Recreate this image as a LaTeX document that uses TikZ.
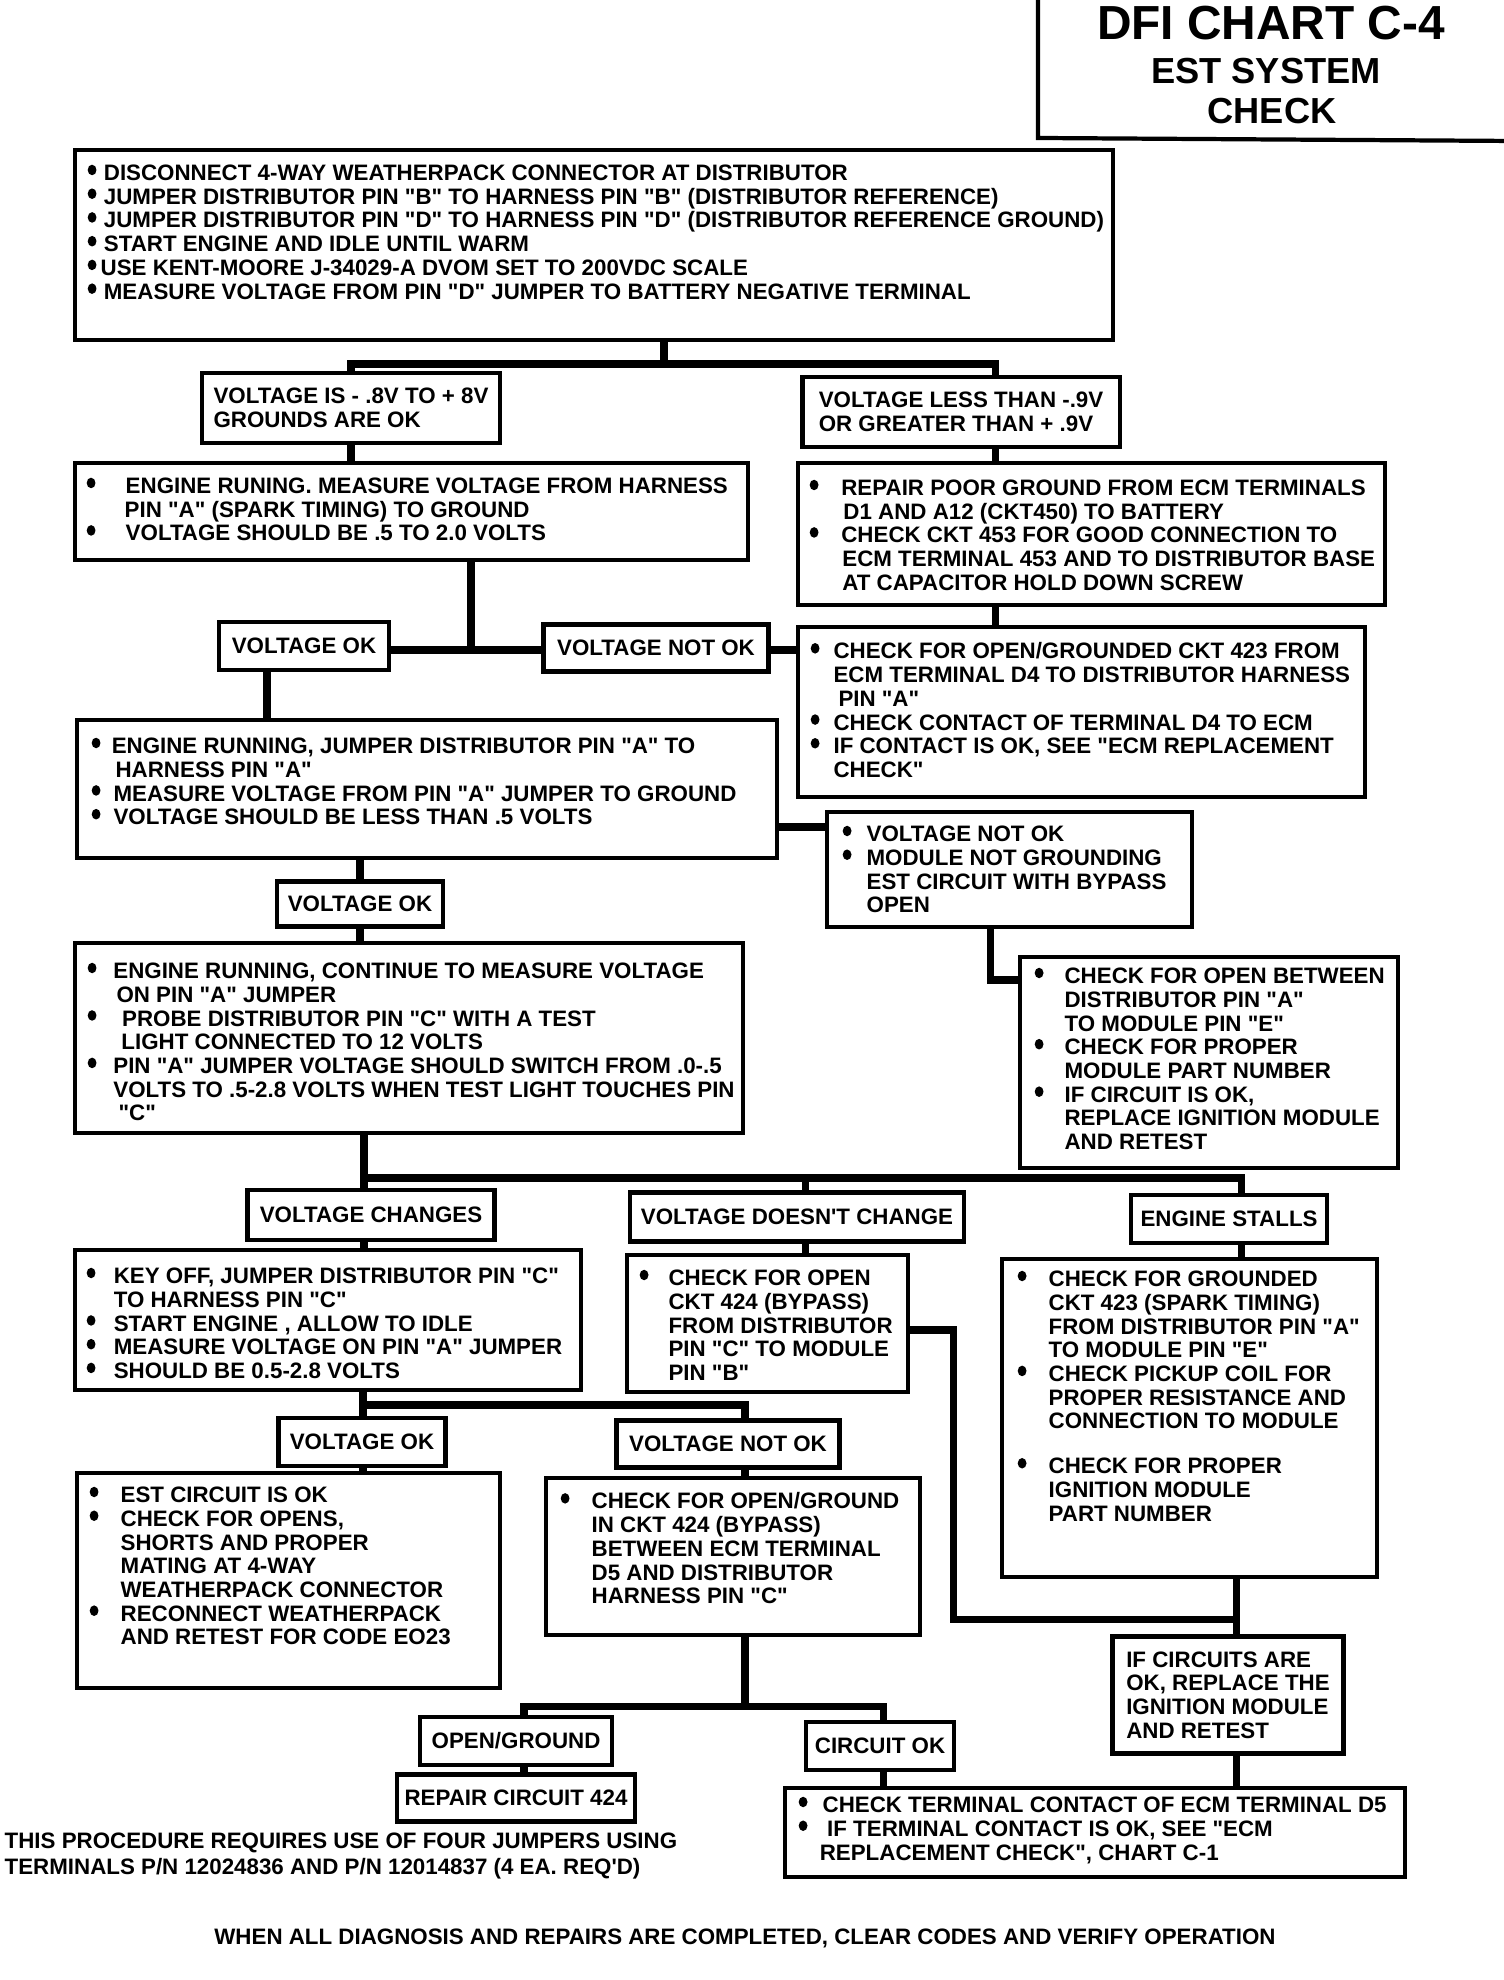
\documentclass[tikz,border=0pt]{standalone}
\usepackage{fontspec}
\setmainfont{Liberation Sans}[Ligatures=TeXOff]
\usetikzlibrary{fit,calc}
\newcommand{\chartfont}{\fontsize{6.35pt}{6.75pt}\selectfont\bfseries}
\newcommand{\dotmark}{\tikz[baseline=-3pt]\fill (0,0) ellipse [x radius=1.25pt, y radius=1.5pt];}
\newcommand{\bul}[1]{\makebox[#1][l]{\dotmark}}
\newcommand{\ind}[1]{\hspace*{#1}}

\begin{document}
\begin{tikzpicture}[
  x=0.01cm, y=-0.01cm,
  box/.style={draw, line width=1.2pt, inner sep=0pt},
  lbl/.style={draw, line width=1.2pt, inner sep=0pt, align=left, font=\chartfont},
  txt/.style={anchor=north west, inner sep=0pt, align=left, font=\chartfont},
  conn/.style={line width=2pt},
  ttl/.style={inner sep=0pt},
]
\useasboundingbox[fill=white] (0,0) rectangle (1504,1980);

% --- Title ---
\draw[box] (1038,-10) -- (1038,138) -- (1514,141);
\node[ttl, font=\fontsize{13.6pt}{14pt}\selectfont\bfseries] (title) at (1271,23) {DFI CHART C-4};
\node[ttl, font=\fontsize{10.3pt}{11pt}\selectfont\bfseries] (title-est) at (1266,71) {EST SYSTEM};
\node[ttl, font=\fontsize{10.3pt}{11pt}\selectfont\bfseries] (title-check) at (1272,111) {CHECK};

% --- Start ---

% Disconnect and measure
\node[box, fit={(75,150) (1113,340)}] (disconnect) {};
\node[txt] (disconnect-t) at (87,164)
  {\bul{4.6pt}DISCONNECT 4-WAY WEATHERPACK CONNECTOR AT DISTRIBUTOR\\
   \bul{4.6pt}JUMPER DISTRIBUTOR PIN "B" TO HARNESS PIN "B" (DISTRIBUTOR REFERENCE)\\
   \bul{4.6pt}JUMPER DISTRIBUTOR PIN "D" TO HARNESS PIN "D" (DISTRIBUTOR REFERENCE GROUND)\\
   \bul{4.6pt}START ENGINE AND IDLE UNTIL WARM\\
   \dotmark\hspace{1.2pt}USE KENT-MOORE J-34029-A DVOM SET TO 200VDC SCALE\\
   \bul{4.6pt}MEASURE VOLTAGE FROM PIN "D" JUMPER TO BATTERY NEGATIVE TERMINAL};

% Ground results
\node[lbl, minimum width=2.98cm, minimum height=0.70cm] (gnd-ok) at (351,408)
  {VOLTAGE IS - .8V TO + 8V\\GROUNDS ARE OK};
\node[lbl, minimum width=3.17cm, minimum height=0.70cm] (gnd-bad) at (961,412)
  {VOLTAGE LESS THAN -.9V\\OR GREATER THAN + .9V};

% --- Left branch ---

% Spark timing at harness
\node[box, fit={(75,463) (748,560)}] (pin-a) {};
\node[txt] (pin-a-t) at (86,477)
  {\bul{11.1pt}ENGINE RUNING. MEASURE VOLTAGE FROM HARNESS\\
   \ind{10.8pt}PIN "A" (SPARK TIMING) TO GROUND\\
   \bul{11.1pt}VOLTAGE SHOULD BE .5 TO 2.0 VOLTS};

\node[lbl, minimum width=1.70cm, minimum height=0.48cm] (volt-ok) at (304,646) {VOLTAGE OK};
\node[lbl, minimum width=2.25cm, minimum height=0.47cm] (volt-bad) at (656,648) {VOLTAGE NOT OK};

% Jumper pin A
\node[box, fit={(77,720) (777,858)}] (jumper-a) {};
\node[txt] (jumper-a-t) at (91,737)
  {\bul{5.7pt}ENGINE RUNNING, JUMPER DISTRIBUTOR PIN "A" TO\\
   \ind{6.8pt}HARNESS PIN "A"\\
   \bul{6.2pt}MEASURE VOLTAGE FROM PIN "A" JUMPER TO GROUND\\
   \bul{6.2pt}VOLTAGE SHOULD BE LESS THAN .5 VOLTS};

\node[lbl, minimum width=1.66cm, minimum height=0.45cm] (volt-ok2) at (360,904) {VOLTAGE OK};

% Test light
\node[box, fit={(75,943) (743,1133)}] (test-light) {};
\node[txt] (test-light-t) at (87,962)
  {\bul{7.3pt}ENGINE RUNNING, CONTINUE TO MEASURE VOLTAGE\\
   \ind{8.2pt}ON PIN "A" JUMPER\\
   \bul{9.8pt}PROBE DISTRIBUTOR PIN "C" WITH A TEST\\
   \ind{9.6pt}LIGHT CONNECTED TO 12 VOLTS\\
   \bul{7.3pt}PIN "A" JUMPER VOLTAGE SHOULD SWITCH FROM .0-.5\\
   \ind{7.3pt}VOLTS TO .5-2.8 VOLTS WHEN TEST LIGHT TOUCHES PIN\\
   \ind{8.8pt}"C"};

\node[lbl, minimum width=2.47cm, minimum height=0.50cm] (changes) at (371,1215) {VOLTAGE CHANGES};
\node[lbl, minimum width=3.34cm, minimum height=0.49cm] (no-change) at (797,1217) {VOLTAGE DOESN'T CHANGE};
\node[lbl, minimum width=1.96cm, minimum height=0.48cm] (stalls) at (1229,1219) {ENGINE STALLS};

% Key off
\node[box, fit={(75,1250) (581,1390)}] (key-off) {};
\node[txt] (key-off-t) at (86,1267)
  {\bul{7.7pt}KEY OFF, JUMPER DISTRIBUTOR PIN "C"\\
   \ind{7.7pt}TO HARNESS PIN "C"\\
   \bul{7.7pt}START ENGINE , ALLOW TO IDLE\\
   \bul{7.7pt}MEASURE VOLTAGE ON PIN "A" JUMPER\\
   \bul{7.7pt}SHOULD BE 0.5-2.8 VOLTS};

% Bypass open
\node[box, fit={(627,1255) (908,1392)}] (bypass) {};
\node[txt] (bypass-t) at (639,1269)
  {\bul{8.2pt}CHECK FOR OPEN\\
   \ind{8.2pt}CKT 424 (BYPASS)\\
   \ind{8.2pt}FROM DISTRIBUTOR\\
   \ind{8.2pt}PIN "C" TO MODULE\\
   \ind{8.2pt}PIN "B"};

% Grounded ckt 423
\node[box, fit={(1002,1259) (1377,1577)}] (grounded) {};
\node[txt] (grounded-t) at (1017,1270)
  {\bul{8.8pt}CHECK FOR GROUNDED\\
   \ind{8.8pt}CKT 423 (SPARK TIMING)\\
   \ind{8.8pt}FROM DISTRIBUTOR PIN "A"\\
   \ind{8.8pt}TO MODULE PIN "E"\\
   \bul{8.8pt}CHECK PICKUP COIL FOR\\
   \ind{8.8pt}PROPER RESISTANCE AND\\
   \ind{8.8pt}CONNECTION TO MODULE\\[6pt]
   \bul{8.8pt}CHECK FOR PROPER\\
   \ind{8.8pt}IGNITION MODULE\\
   \ind{8.8pt}PART NUMBER};

\node[lbl, minimum width=1.67cm, minimum height=0.48cm] (volt-ok3) at (362,1442) {VOLTAGE OK};
\node[lbl, minimum width=2.23cm, minimum height=0.47cm] (volt-bad2) at (728,1444) {VOLTAGE NOT OK};

% EST ok
\node[box, fit={(77,1473) (500,1688)}] (est-ok) {};
\node[txt] (est-ok-t) at (89,1486)
  {\bul{8.8pt}EST CIRCUIT IS OK\\
   \bul{8.8pt}CHECK FOR OPENS,\\
   \ind{8.8pt}SHORTS AND PROPER\\
   \ind{8.8pt}MATING AT 4-WAY\\
   \ind{8.8pt}WEATHERPACK CONNECTOR\\
   \bul{8.8pt}RECONNECT WEATHERPACK\\
   \ind{8.8pt}AND RETEST FOR CODE EO23};

% Open/ground ckt 424
\node[box, fit={(546,1478) (920,1635)}] (ckt424) {};
\node[txt] (ckt424-t) at (560,1492)
  {\bul{8.8pt}CHECK FOR OPEN/GROUND\\
   \ind{8.8pt}IN CKT 424 (BYPASS)\\
   \ind{8.8pt}BETWEEN ECM TERMINAL\\
   \ind{8.8pt}D5 AND DISTRIBUTOR\\
   \ind{8.8pt}HARNESS PIN "C"};

\node[lbl, minimum width=2.31cm, minimum height=1.17cm] (replace) at (1228,1695)
  {IF CIRCUITS ARE\\OK, REPLACE THE\\IGNITION MODULE\\AND RETEST};
\node[lbl, minimum width=1.92cm, minimum height=0.48cm] (open-gnd) at (516,1741) {OPEN/GROUND};
\node[lbl, minimum width=1.48cm, minimum height=0.48cm] (circuit-ok) at (880,1746) {CIRCUIT OK};
\node[lbl, minimum width=2.38cm, minimum height=0.47cm] (repair424) at (516,1798) {REPAIR CIRCUIT 424};

% Terminal D5
\node[box, fit={(785,1788) (1405,1877)}] (term-d5) {};
\node[txt] (term-d5-t) at (798,1796)
  {\bul{6.8pt}CHECK TERMINAL CONTACT OF ECM TERMINAL D5\\
   \bul{8.1pt}IF TERMINAL CONTACT IS OK, SEE "ECM\\
   \ind{6.0pt}REPLACEMENT CHECK", CHART C-1};

% --- Right branch ---

% Repair grounds
\node[box, fit={(798,463) (1385,605)}] (repair-gnd) {};
\node[txt] (repair-gnd-t) at (809,479)
  {\bul{9.0pt}REPAIR POOR GROUND FROM ECM TERMINALS\\
   \ind{9.6pt}D1 AND A12 (CKT450) TO BATTERY\\
   \bul{9.0pt}CHECK CKT 453 FOR GOOD CONNECTION TO\\
   \ind{9.3pt}ECM TERMINAL 453 AND TO DISTRIBUTOR BASE\\
   \ind{9.3pt}AT CAPACITOR HOLD DOWN SCREW};

% Ckt 423
\node[box, fit={(798,627) (1365,797)}] (ckt423) {};
\node[txt] (ckt423-t) at (810,642)
  {\bul{6.5pt}CHECK FOR OPEN/GROUNDED CKT 423 FROM\\
   \ind{6.5pt}ECM TERMINAL D4 TO DISTRIBUTOR HARNESS\\
   \ind{7.9pt}PIN "A"\\
   \bul{6.5pt}CHECK CONTACT OF TERMINAL D4 TO ECM\\
   \bul{6.5pt}IF CONTACT IS OK, SEE "ECM REPLACEMENT\\
   \ind{6.5pt}CHECK"};

% Module not grounding
\node[box, fit={(827,812) (1192,927)}] (mod-open) {};
\node[txt] (mod-open-t) at (842,825)
  {\bul{6.8pt}VOLTAGE NOT OK\\
   \bul{6.8pt}MODULE NOT GROUNDING\\
   \ind{6.8pt}EST CIRCUIT WITH BYPASS\\
   \ind{6.8pt}OPEN};

% Open between
\node[box, fit={(1020,957) (1398,1168)}] (open-btw) {};
\node[txt] (open-btw-t) at (1034,967)
  {\bul{8.5pt}CHECK FOR OPEN BETWEEN\\
   \ind{8.5pt}DISTRIBUTOR PIN "A"\\
   \ind{8.5pt}TO MODULE PIN "E"\\
   \bul{8.5pt}CHECK FOR PROPER\\
   \ind{8.5pt}MODULE PART NUMBER\\
   \bul{8.5pt}IF CIRCUIT IS OK,\\
   \ind{8.5pt}REPLACE IGNITION MODULE\\
   \ind{8.5pt}AND RETEST};

% --- Notes ---
\node[txt] (jumpers) at (4,1832)
  {THIS PROCEDURE REQUIRES USE OF FOUR JUMPERS USING\\[0.6pt]
   TERMINALS P/N 12024836 AND P/N 12014837 (4 EA. REQ'D)};
\node[font=\chartfont, inner sep=0pt] (clear) at (745,1938)
  {WHEN ALL DIAGNOSIS AND REPAIRS ARE COMPLETED, CLEAR CODES AND VERIFY OPERATION};

% --- Connectors ---
\coordinate (b1m) at (664,364);
\coordinate (b1l) at (351,364);
\coordinate (b1r) at (995,364);
\draw[conn] (disconnect.south -| b1m) -- (b1m);
\draw[conn] (gnd-ok.north -| b1l) -- (b1l) -- (b1r) -- (gnd-bad.north -| b1r);
\draw[conn] (gnd-ok.south -| b1l) -- (pin-a.north -| b1l);
\draw[conn] (gnd-bad.south -| b1r) -- (repair-gnd.north -| b1r);
\draw[conn] (repair-gnd.south -| b1r) -- (ckt423.north -| b1r);

\coordinate (b2) at (471,650);
\draw[conn] (pin-a.south -| b2) -- (b2);
\draw[conn] (volt-ok.east |- b2) -- (volt-bad.west |- b2);
\draw[conn] (volt-bad.east |- b2) -- (ckt423.west |- b2);

\coordinate (k1) at (267,700);
\draw[conn] (volt-ok.south -| k1) -- (jumper-a.north -| k1);
\coordinate (k2) at (800,827);
\draw[conn] (jumper-a.east |- k2) -- (mod-open.west |- k2);
\coordinate (k3) at (990,980);
\draw[conn] (mod-open.south -| k3) -- (k3) -- (open-btw.west |- k3);

\draw[conn] (jumper-a.south -| volt-ok2.north) -- (volt-ok2.north);
\draw[conn] (volt-ok2.south) -- (test-light.north -| volt-ok2.south);

\coordinate (b3l) at (364,1178);
\coordinate (b3m) at (805,1178);
\coordinate (b3r) at (1241,1178);
\draw[conn] (test-light.south -| b3l) -- (changes.north -| b3l);
\draw[conn] (b3l) -- (b3r) -- (stalls.north -| b3r);
\draw[conn] (b3m) -- (no-change.north -| b3m);
\draw[conn] (changes.south -| b3l) -- (key-off.north -| b3l);
\draw[conn] (no-change.south -| b3m) -- (bypass.north -| b3m);
\draw[conn] (stalls.south -| b3r) -- (grounded.north -| b3r);

\coordinate (b4l) at (363,1405);
\coordinate (b4r) at (745,1405);
\draw[conn] (key-off.south -| b4l) -- (volt-ok3.north -| b4l);
\draw[conn] (b4l) -- (b4r) -- (volt-bad2.north -| b4r);
\draw[conn] (volt-ok3.south -| b4l) -- (est-ok.north -| b4l);
\draw[conn] (volt-bad2.south -| b4r) -- (ckt424.north -| b4r);

\coordinate (b5l) at (524,1706);
\coordinate (b5r) at (883,1706);
\draw[conn] (ckt424.south -| b4r) -- (b4r |- b5l);
\draw[conn] (open-gnd.north -| b5l) -- (b5l) -- (b5r) -- (circuit-ok.north -| b5r);
\draw[conn] (open-gnd.south -| b5l) -- (repair424.north -| b5l);
\draw[conn] (circuit-ok.south -| b5r) -- (term-d5.north -| b5r);

\coordinate (k4) at (953,1330);
\coordinate (k5) at (1236,1619);
\draw[conn] (bypass.east |- k4) -- (k4) |- (k5);
\draw[conn] (grounded.south -| k5) -- (replace.north -| k5);
\draw[conn] (replace.south -| k5) -- (term-d5.north -| k5);

\end{tikzpicture}
\end{document}
